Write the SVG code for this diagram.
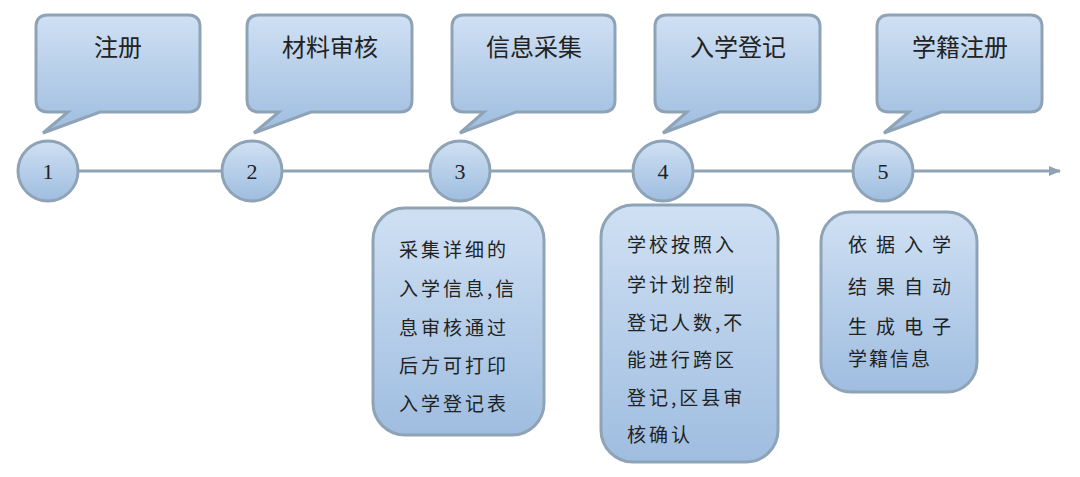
<svg xmlns="http://www.w3.org/2000/svg" width="1080" height="477" viewBox="0 0 1080 477">
<style>
.s{fill:url(#g);stroke:#8fa3b6;stroke-width:3}
.t{font-family:"Noto Sans CJK SC",sans-serif;font-size:24px;fill:#222;text-anchor:middle}
.n{font-family:"Liberation Serif",serif;font-size:22px;fill:#222;text-anchor:middle}
.b{font-family:"Noto Sans CJK SC",sans-serif;font-size:19px;fill:#222;letter-spacing:3px}
</style>
<defs>
<linearGradient id="g" x1="0" y1="0" x2="0" y2="1"><stop offset="0" stop-color="#cfe0f3"/><stop offset="1" stop-color="#9fbde0"/></linearGradient>
<marker id="a" markerWidth="12" markerHeight="10" refX="11" refY="5" orient="auto" markerUnits="userSpaceOnUse"><path d="M0,0L12,5L0,10z" fill="#8fa3b6"/></marker>
</defs>
<g id="connectors"><line x1="78" y1="171" x2="1060" y2="171" stroke="#8fa3b6" stroke-width="3" marker-end="url(#a)"/></g>
<g id="c1"><path class="s" d="M50,15H188Q200,15 200,27V100Q200,112 188,112H100L43,133L68,112H48Q36,112 36,100V27Q36,15 48,15Z"/><text class="t" x="118" y="56">注册</text></g>
<g id="c2"><path class="s" d="M261,15H400Q412,15 412,27V100Q412,112 400,112H311L254,133L279,112H259Q247,112 247,100V27Q247,15 259,15Z"/><text class="t" x="330" y="56">材料审核</text></g>
<g id="c3"><path class="s" d="M466,15H603Q615,15 615,27V100Q615,112 603,112H516L460,133L484,112H464Q452,112 452,100V27Q452,15 464,15Z"/><text class="t" x="534" y="56">信息采集</text></g>
<g id="c4"><path class="s" d="M669,15H808Q820,15 820,27V100Q820,112 808,112H719L663,133L687,112H667Q655,112 655,100V27Q655,15 667,15Z"/><text class="t" x="738" y="56">入学登记</text></g>
<g id="c5"><path class="s" d="M891,15H1030Q1042,15 1042,27V100Q1042,112 1030,112H941L884,133L909,112H889Q877,112 877,100V27Q877,15 889,15Z"/><text class="t" x="960" y="56">学籍注册</text></g>
<g id="n1"><circle class="s" cx="48" cy="171" r="30"/><text class="n" x="48" y="179">1</text></g>
<g id="n2"><circle class="s" cx="252" cy="171" r="30"/><text class="n" x="252" y="179">2</text></g>
<g id="n3"><circle class="s" cx="460" cy="171" r="30"/><text class="n" x="460" y="179">3</text></g>
<g id="n4"><circle class="s" cx="663" cy="171" r="30"/><text class="n" x="663" y="179">4</text></g>
<g id="n5"><circle class="s" cx="883" cy="171" r="30"/><text class="n" x="883" y="179">5</text></g>
<g id="d3"><rect class="s" x="373" y="208" width="171" height="227" rx="32"/>
<text class="b" x="399"><tspan x="399" y="257">采集详细的</tspan><tspan x="399" y="296">入学信息,信</tspan><tspan x="399" y="335">息审核通过</tspan><tspan x="399" y="373">后方可打印</tspan><tspan x="399" y="411">入学登记表</tspan></text></g>
<g id="d4"><rect class="s" x="601" y="205" width="177" height="257" rx="32"/>
<text class="b" x="627"><tspan x="627" y="252">学校按照入</tspan><tspan x="627" y="292">学计划控制</tspan><tspan x="627" y="330">登记人数,不</tspan><tspan x="627" y="367">能进行跨区</tspan><tspan x="627" y="405">登记,区县审</tspan><tspan x="627" y="442">核确认</tspan></text></g>
<g id="d5"><rect class="s" x="821" y="212" width="156" height="180" rx="30"/>
<text class="b" x="848" style="letter-spacing:9px"><tspan x="848" y="252">依据入学</tspan><tspan x="848" y="294">结果自动</tspan><tspan x="848" y="334">生成电子</tspan><tspan x="848" y="366" style="letter-spacing:2px">学籍信息</tspan></text></g>
</svg>
